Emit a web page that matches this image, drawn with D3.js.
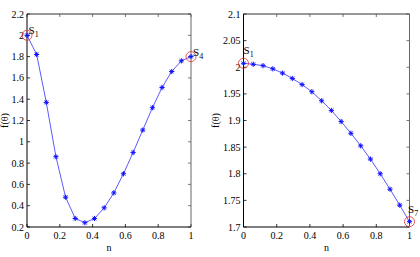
<!DOCTYPE html>
<html>
<head>
<meta charset="utf-8">
<script src="https://cdn.jsdelivr.net/npm/d3@7/dist/d3.min.js"></script>
<style>
  html, body { margin: 0; padding: 0; background: #fff; }
  svg { display: block; }
  svg text { font-family: "Liberation Serif", "DejaVu Serif", "Times New Roman", serif; }
</style>
</head>
<body>
<div id="chart"></div>
<script>
var leftValues = [2.0, 1.82, 1.37, 0.86, 0.48, 0.28, 0.24, 0.28, 0.38, 0.52, 0.70, 0.90, 1.11, 1.32, 1.51, 1.66, 1.76, 1.80];
var rightValues = [2.0075, 2.0056, 2.003, 1.997, 1.989, 1.979, 1.9675, 1.954, 1.937, 1.919, 1.898, 1.876, 1.8525, 1.8275, 1.80, 1.771, 1.741, 1.71];
var xTicks = [0, 0.2, 0.4, 0.6, 0.8, 1];
var leftYTicks = [0.2, 0.4, 0.6, 0.8, 1, 1.2, 1.4, 1.6, 1.8, 2, 2.2];
var rightYTicks = [1.7, 1.75, 1.8, 1.85, 1.9, 1.95, 2, 2.05, 2.1];

var svg = d3.select("#chart").append("svg")
  .attr("width", 420)
  .attr("height", 257);

function fmt(v) {
  return String(+v.toFixed(2));
}

function drawPanel(opts) {
  var n = opts.values.length;
  var pts = opts.values.map(function (v, i) { return {x: i / (n - 1), y: v}; });

  var x = d3.scaleLinear().domain([0, 1]).range([opts.left, opts.right]);
  var y = d3.scaleLinear().domain(opts.yDomain).range([opts.bottom, opts.top]);

  var g = svg.append("g");

  // ticks (inward, mirrored)
  var tl = 3;
  opts.yTicks.forEach(function (t) {
    g.append("line").attr("x1", opts.left).attr("x2", opts.left + tl)
      .attr("y1", y(t)).attr("y2", y(t)).attr("stroke", "#000").attr("stroke-width", 0.8);
    g.append("line").attr("x1", opts.right).attr("x2", opts.right - tl)
      .attr("y1", y(t)).attr("y2", y(t)).attr("stroke", "#555").attr("stroke-width", 0.8);
    g.append("text")
      .attr("x", opts.left - 3).attr("y", y(t)).attr("dy", "0.35em")
      .attr("text-anchor", "end")
      .attr("font-size", 10).attr("fill", "#000")
      .text(fmt(t));
  });
  xTicks.forEach(function (t) {
    g.append("line").attr("x1", x(t)).attr("x2", x(t))
      .attr("y1", opts.bottom).attr("y2", opts.bottom - tl).attr("stroke", "#000").attr("stroke-width", 0.8);
    g.append("line").attr("x1", x(t)).attr("x2", x(t))
      .attr("y1", opts.top).attr("y2", opts.top + tl).attr("stroke", "#555").attr("stroke-width", 0.8);
    g.append("text")
      .attr("x", x(t)).attr("y", opts.bottom + 12)
      .attr("text-anchor", "middle")
      .attr("font-size", 10).attr("fill", "#000")
      .text(fmt(t));
  });

  // box
  g.append("line").attr("x1", opts.left).attr("x2", opts.right).attr("y1", opts.top).attr("y2", opts.top)
    .attr("stroke", "#333").attr("stroke-width", 1);
  g.append("line").attr("x1", opts.right).attr("x2", opts.right).attr("y1", opts.top).attr("y2", opts.bottom)
    .attr("stroke", "#666").attr("stroke-width", 1);
  g.append("line").attr("x1", opts.left).attr("x2", opts.right).attr("y1", opts.bottom).attr("y2", opts.bottom)
    .attr("stroke", "#000").attr("stroke-width", 1);
  g.append("line").attr("x1", opts.left).attr("x2", opts.left).attr("y1", opts.top).attr("y2", opts.bottom)
    .attr("stroke", "#000").attr("stroke-width", 1);

  // axis labels
  g.append("text")
    .attr("x", (opts.left + opts.right) / 2).attr("y", opts.bottom + 24)
    .attr("text-anchor", "middle")
    .attr("font-size", 10)
    .text("n");
  g.append("text")
    .attr("transform", "translate(" + opts.ylabelX + "," + ((opts.top + opts.bottom) / 2) + ") rotate(-90)")
    .attr("text-anchor", "middle")
    .attr("font-size", 10)
    .text("f(θ)");

  // line
  var line = d3.line().x(function (d) { return x(d.x); }).y(function (d) { return y(d.y); });
  g.append("path").datum(pts)
    .attr("d", line)
    .attr("fill", "none")
    .attr("stroke", "#4848ff")
    .attr("stroke-width", 0.9);

  // asterisk markers
  var r = 2.6;
  var star = g.append("g").selectAll("g").data(pts).join("g")
    .attr("transform", function (d) { return "translate(" + x(d.x) + "," + y(d.y) + ")"; })
    .attr("stroke", "#1010ff").attr("stroke-width", 1);
  [0, 45, 90, 135].forEach(function (a) {
    var rad = a * Math.PI / 180;
    star.append("line")
      .attr("x1", -r * Math.cos(rad)).attr("y1", -r * Math.sin(rad))
      .attr("x2", r * Math.cos(rad)).attr("y2", r * Math.sin(rad));
  });

  // red circles and labels at ends
  [pts[0], pts[n - 1]].forEach(function (d, i) {
    g.append("circle")
      .attr("cx", x(d.x)).attr("cy", y(d.y)).attr("r", 5)
      .attr("fill", "none").attr("stroke", "#e03030").attr("stroke-width", 0.8);
    var lab = opts.labels[i];
    var t = g.append("text")
      .attr("x", x(d.x) + lab.dx).attr("y", y(d.y) + lab.dy)
      .attr("font-size", 11).attr("fill", "#000");
    t.append("tspan").text("S");
    t.append("tspan").attr("font-size", 8).attr("dy", 3).text(lab.sub);
  });
}

drawPanel({
  values: leftValues,
  yDomain: [0.2, 2.2],
  yTicks: leftYTicks,
  left: 27, right: 191, top: 14, bottom: 227,
  ylabelX: 8,
  labels: [{dx: 1.5, dy: -1, sub: "1"}, {dx: 2, dy: -1, sub: "4"}]
});

drawPanel({
  values: rightValues,
  yDomain: [1.7, 2.1],
  yTicks: rightYTicks,
  left: 243.5, right: 409.5, top: 14, bottom: 227,
  ylabelX: 219,
  labels: [{dx: 0, dy: -9, sub: "1"}, {dx: -1.5, dy: -9, sub: "7"}]
});
</script>
</body>
</html>
